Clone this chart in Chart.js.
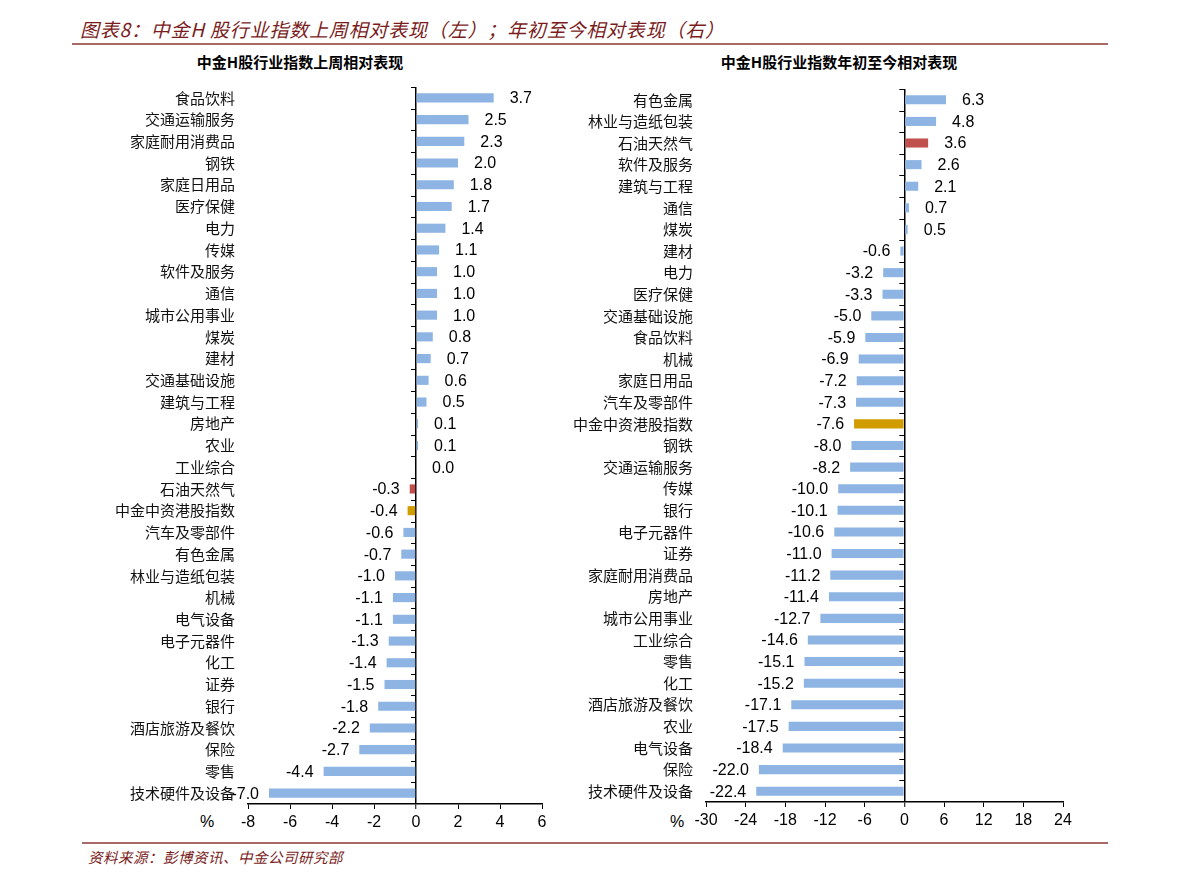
<!DOCTYPE html>
<html>
<head>
<meta charset="utf-8">
<script src="https://cdn.jsdelivr.net/npm/chart.js@4/dist/chart.umd.min.js"></script>
<style>
  body { margin: 0; background: #fff; }
  #page { position: relative; width: 1191px; height: 883px; overflow: hidden; font-family: "Noto Sans CJK SC", sans-serif; }
  .abs { position: absolute; white-space: nowrap; }
  #mainTitle { left: 80px; top: 16px; font-size: 19px; font-style: italic; color: #7a1c1c; line-height: 26px; letter-spacing: 0.8px; }
  .rule { position: absolute; height: 2px; background: #a86a68; }
  .subTitle { top: 52px; font-size: 15px; font-weight: bold; color: #000; line-height: 20px; transform: translateX(-50%); }
  .pct { top: 812px; font-size: 16px; font-family: "Liberation Sans", Arial, sans-serif; color: #000; line-height: 20px; }
  #source { left: 88px; top: 847px; font-size: 14.5px; font-style: italic; color: #7a1c1c; line-height: 20px; letter-spacing: 0.5px; }
  canvas { position: absolute; }
</style>
</head>
<body>
<div id="page">
  <div id="mainTitle" class="abs">图表8：中金H 股行业指数上周相对表现（左）；年初至今相对表现（右）</div>
  <div class="rule" style="left:72px; width:1036px; top:43px;"></div>
  <div class="abs subTitle" style="left:300px;">中金H股行业指数上周相对表现</div>
  <div class="abs subTitle" style="left:839px;">中金H股行业指数年初至今相对表现</div>
  <div class="abs pct" style="left:200px;">%</div>
  <div class="abs pct" style="left:670px;">%</div>
  <canvas id="weekChart" width="590" height="776" style="left:0px; top:65px;"></canvas>
  <canvas id="ytdChart" width="563" height="773" style="left:540px; top:67px;"></canvas>
  <div class="rule" style="left:82px; width:1026px; top:842px;"></div>
  <div id="source" class="abs">资料来源：彭博资讯、中金公司研究部</div>
</div>
<script>
const weekLabels = ['食品饮料', '交通运输服务', '家庭耐用消费品', '钢铁', '家庭日用品', '医疗保健', '电力', '传媒',
  '软件及服务', '通信', '城市公用事业', '煤炭', '建材', '交通基础设施', '建筑与工程', '房地产', '农业', '工业综合',
  '石油天然气', '中金中资港股指数', '汽车及零部件', '有色金属', '林业与造纸包装', '机械', '电气设备', '电子元器件',
  '化工', '证券', '银行', '酒店旅游及餐饮', '保险', '零售', '技术硬件及设备'];
const weekValues = [3.7, 2.5, 2.3, 2.0, 1.8, 1.7, 1.4, 1.1, 1.0, 1.0, 1.0, 0.8, 0.7, 0.6, 0.5, 0.1, 0.1, 0.0,
  -0.3, -0.4, -0.6, -0.7, -1.0, -1.1, -1.1, -1.3, -1.4, -1.5, -1.8, -2.2, -2.7, -4.4, -7.0];

const ytdLabels = ['有色金属', '林业与造纸包装', '石油天然气', '软件及服务', '建筑与工程', '通信', '煤炭', '建材',
  '电力', '医疗保健', '交通基础设施', '食品饮料', '机械', '家庭日用品', '汽车及零部件', '中金中资港股指数', '钢铁',
  '交通运输服务', '传媒', '银行', '电子元器件', '证券', '家庭耐用消费品', '房地产', '城市公用事业', '工业综合',
  '零售', '化工', '酒店旅游及餐饮', '农业', '电气设备', '保险', '技术硬件及设备'];
const ytdValues = [6.3, 4.8, 3.6, 2.6, 2.1, 0.7, 0.5, -0.6, -3.2, -3.3, -5.0, -5.9, -6.9, -7.2, -7.3, -7.6, -8.0,
  -8.2, -10.0, -10.1, -10.6, -11.0, -11.2, -11.4, -12.7, -14.6, -15.1, -15.2, -17.1, -17.5, -18.4, -22.0, -22.4];

const weekTicks = [-8, -6, -4, -2, 0, 2, 4, 6];
const ytdTicks = [-30, -24, -18, -12, -6, 0, 6, 12, 18, 24];

const oilName = '石油天然气';
const indexName = '中金中资港股指数';

const BLUE = '#8db4e2';
const RED = '#c0504d';
const GOLD = '#d09c00';

Chart.defaults.font.family = '"Noto Sans CJK SC", sans-serif';
Chart.defaults.color = '#000';

function barColors(labels) {
  return labels.map(l => l === oilName ? RED : (l === indexName ? GOLD : BLUE));
}

// value labels at bar ends + small ticks on the zero line
const barLabels = {
  id: 'barLabels',
  afterDatasetsDraw(chart) {
    const ctx = chart.ctx;
    const xs = chart.scales.x;
    const ys = chart.scales.y;
    const zero = xs.getPixelForValue(0);
    const n = chart.data.labels.length;
    const step = (ys.getPixelForValue(n - 1) - ys.getPixelForValue(0)) / (n - 1);
    ctx.save();
    ctx.strokeStyle = '#000';
    ctx.lineWidth = 1;
    ctx.beginPath();
    for (let i = 0; i < n; i++) {
      const py = Math.round(ys.getPixelForValue(0) - step / 2 + i * step) + 0.5;
      ctx.moveTo(zero - 5, py);
      ctx.lineTo(zero, py);
    }
    ctx.stroke();

    ctx.font = '16px "Liberation Sans", Arial, sans-serif';
    ctx.fillStyle = '#000';
    ctx.textBaseline = 'middle';
    const data = chart.data.datasets[0].data;
    chart.getDatasetMeta(0).data.forEach((bar, i) => {
      const v = data[i];
      if (v >= 0) {
        ctx.textAlign = 'left';
        ctx.fillText(v.toFixed(1), Math.max(bar.x, zero) + 16, bar.y + 1);
      } else {
        ctx.textAlign = 'right';
        ctx.fillText(v.toFixed(1), bar.x - 10, bar.y + 1);
      }
    });
    ctx.restore();
  }
};

function makeChart(id, labels, values, ticks, yWidth, xHeight, pad) {
  return new Chart(document.getElementById(id), {
    type: 'bar',
    data: {
      labels: labels,
      datasets: [{
        data: values,
        backgroundColor: barColors(labels),
        borderWidth: 0,
        categoryPercentage: 1,
        barPercentage: 0.42
      }]
    },
    options: {
      indexAxis: 'y',
      responsive: false,
      animation: false,
      devicePixelRatio: 1,
      layout: { padding: pad },
      plugins: { legend: { display: false }, tooltip: { enabled: false } },
      scales: {
        x: {
          min: ticks[0],
          max: ticks[ticks.length - 1],
          afterBuildTicks: s => { s.ticks = ticks.map(v => ({ value: v })); },
          afterFit: s => { s.height = xHeight; },
          border: { display: true, color: '#000', width: 1.5 },
          grid: {
            color: c => (c.tick && c.tick.value === 0) ? '#000' : 'rgba(0,0,0,0)',
            lineWidth: c => (c.tick && c.tick.value === 0) ? 1.5 : 1,
            tickColor: '#000',
            tickWidth: 1,
            tickLength: 5
          },
          ticks: {
            font: { family: '"Liberation Sans", Arial, sans-serif', size: 16 },
            color: '#000',
            padding: 4,
            maxRotation: 0
          }
        },
        y: {
          afterFit: s => { s.width = yWidth; },
          border: { display: false },
          grid: { display: false, drawTicks: false },
          ticks: {
            font: { size: 15 },
            color: '#111',
            padding: 13,
            autoSkip: false
          }
        }
      }
    },
    plugins: [barLabels]
  });
}

makeChart('weekChart', weekLabels, weekValues, weekTicks, 248, 37, { top: 15, right: 48, bottom: 0, left: 0 });
makeChart('ytdChart', ytdLabels, ytdValues, ytdTicks, 166, 38, { top: 19, right: 40, bottom: 0, left: 0 });
</script>
</body>
</html>
